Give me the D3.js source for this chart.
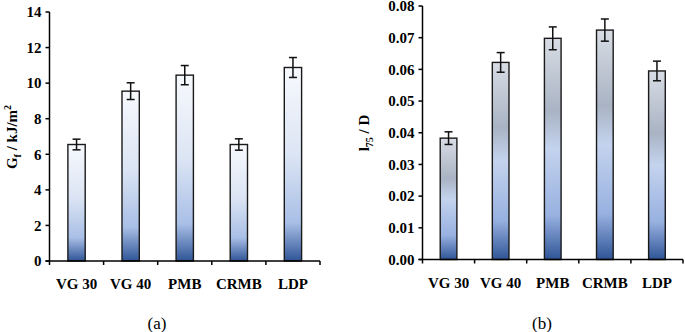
<!DOCTYPE html>
<html>
<head>
<meta charset="utf-8">
<script src="https://cdn.jsdelivr.net/npm/d3@7"></script>
<style>
  body { margin: 0; background: #fff; }
  text { font-family: "Liberation Serif", "Times New Roman", serif; }
</style>
</head>
<body>
<div id="chart"></div>
<script>
const categories = ["VG 30", "VG 40", "PMB", "CRMB", "LDP"];
const gfValues = [6.55, 9.55, 10.45, 6.55, 10.88];
const gfErrors = [0.3, 0.47, 0.54, 0.32, 0.56];
const gfTicks = [0, 2, 4, 6, 8, 10, 12, 14];
const lValues = [0.0383, 0.0622, 0.0698, 0.0724, 0.0595];
const lErrors = [0.0020, 0.0031, 0.0036, 0.0035, 0.0031];
const lTicks = [0, 0.01, 0.02, 0.03, 0.04, 0.05, 0.06, 0.07, 0.08];

const svg = d3.select("#chart").append("svg")
  .attr("width", 685)
  .attr("height", 332);

const defs = svg.append("defs");

// white to blue, left panel
const gradA = defs.append("linearGradient").attr("id", "gradA")
  .attr("x1", 0).attr("y1", 0).attr("x2", 0).attr("y2", 1);
[[0, "#f7f9fd"], [0.45, "#dce5f4"], [0.8, "#a9bfe6"], [1, "#2f5597"]]
  .forEach(s => gradA.append("stop").attr("offset", s[0]).attr("stop-color", s[1]));

// gray / blue banded, right panel
const gradB = defs.append("linearGradient").attr("id", "gradB")
  .attr("x1", 0).attr("y1", 0).attr("x2", 0).attr("y2", 1);
[[0, "#d8dde5"], [0.33, "#a9b3c3"], [0.5, "#c4d3ee"], [0.8, "#98b1e0"], [1, "#2f5597"]]
  .forEach(s => gradB.append("stop").attr("offset", s[0]).attr("stop-color", s[1]));

function panel(opts) {
  const g = svg.append("g");
  const x = d3.scaleBand().domain(categories).range([opts.x0, opts.x1]);
  const y = d3.scaleLinear().domain(opts.domain).range([opts.yb, opts.yt]);

  // y axis
  g.append("line")
    .attr("x1", opts.x0).attr("x2", opts.x0)
    .attr("y1", y(opts.domain[0])).attr("y2", y(opts.domain[1]))
    .attr("stroke", "#000").attr("stroke-width", 1.5);
  g.selectAll(".ytick").data(opts.ticks).enter().append("line")
    .attr("x1", opts.x0 - 4).attr("x2", opts.x0)
    .attr("y1", d => y(d)).attr("y2", d => y(d))
    .attr("stroke", "#000").attr("stroke-width", 1.5);
  g.selectAll(".ylab").data(opts.ticks).enter().append("text")
    .attr("x", opts.x0 - 8).attr("y", d => y(d))
    .attr("dy", "0.35em")
    .attr("text-anchor", "end")
    .style("font-size", "15px").style("font-weight", "bold")
    .text(opts.fmt);

  // bars
  g.selectAll("rect").data(opts.values).enter().append("rect")
    .attr("x", (d, i) => x(categories[i]) + x.bandwidth() * 0.34)
    .attr("width", x.bandwidth() * 0.32)
    .attr("y", d => y(d))
    .attr("height", d => y(0) - y(d))
    .attr("fill", `url(#${opts.grad})`)
    .attr("stroke", "#1a1a1a").attr("stroke-width", 1.4);

  // error bars
  const eb = g.selectAll(".err").data(opts.values).enter().append("g");
  const cx = (d, i) => x(categories[i]) + x.bandwidth() / 2;
  eb.append("line")
    .attr("x1", cx).attr("x2", cx)
    .attr("y1", (d, i) => y(d - opts.errors[i])).attr("y2", (d, i) => y(d + opts.errors[i]))
    .attr("stroke", "#111").attr("stroke-width", 1.5);
  [-1, 1].forEach(sgn => {
    eb.append("line")
      .attr("x1", (d, i) => cx(d, i) - 4).attr("x2", (d, i) => cx(d, i) + 4)
      .attr("y1", (d, i) => y(d + sgn * opts.errors[i])).attr("y2", (d, i) => y(d + sgn * opts.errors[i]))
      .attr("stroke", "#111").attr("stroke-width", 1.5);
  });

  // x axis
  g.append("line")
    .attr("x1", opts.x0 - 4).attr("x2", opts.x1)
    .attr("y1", y(0)).attr("y2", y(0))
    .attr("stroke", "#000").attr("stroke-width", 1.5);
  const bounds = categories.map(c => x(c)).concat([opts.x1]);
  g.selectAll(".xtick").data(bounds).enter().append("line")
    .attr("x1", d => d).attr("x2", d => d)
    .attr("y1", y(0)).attr("y2", y(0) + 4)
    .attr("stroke", "#000").attr("stroke-width", 1.5);
  g.selectAll(".xlab").data(categories).enter().append("text")
    .attr("x", d => x(d) + x.bandwidth() / 2)
    .attr("y", y(0) + 28)
    .attr("text-anchor", "middle")
    .style("font-size", "15px").style("font-weight", "bold")
    .text(d => d);

  // y label
  const yl = g.append("text")
    .attr("transform", `translate(${opts.ylx},${opts.yly}) rotate(-90)`)
    .attr("text-anchor", "middle")
    .style("font-size", "15px").style("font-weight", "bold");
  opts.ylabel(yl);

  // panel caption
  g.append("text")
    .attr("x", opts.capx).attr("y", 329)
    .attr("text-anchor", "middle")
    .style("font-size", "17px")
    .text(opts.caption);
}

panel({
  x0: 49.5, x1: 320, yb: 261, yt: 12,
  domain: [0, 14], ticks: gfTicks, fmt: d3.format("d"),
  values: gfValues, errors: gfErrors, grad: "gradA",
  ylx: 17, yly: 137, capx: 157, caption: "(a)",
  ylabel: t => {
    t.append("tspan").text("G");
    t.append("tspan").attr("dy", 4).style("font-size", "10px").text("f");
    t.append("tspan").attr("dy", -4).text(" / kJ/m");
    t.append("tspan").attr("dy", -6).style("font-size", "10px").text("2");
  }
});

panel({
  x0: 422.5, x1: 683, yb: 259.5, yt: 6,
  domain: [0, 0.08], ticks: lTicks, fmt: d3.format(".2f"),
  values: lValues, errors: lErrors, grad: "gradB",
  ylx: 369, yly: 133, capx: 542, caption: "(b)",
  ylabel: t => {
    t.append("tspan").text("l");
    t.append("tspan").attr("dy", 4).style("font-size", "10px").text("75");
    t.append("tspan").attr("dy", -4).text(" / D");
  }
});
</script>
</body>
</html>
